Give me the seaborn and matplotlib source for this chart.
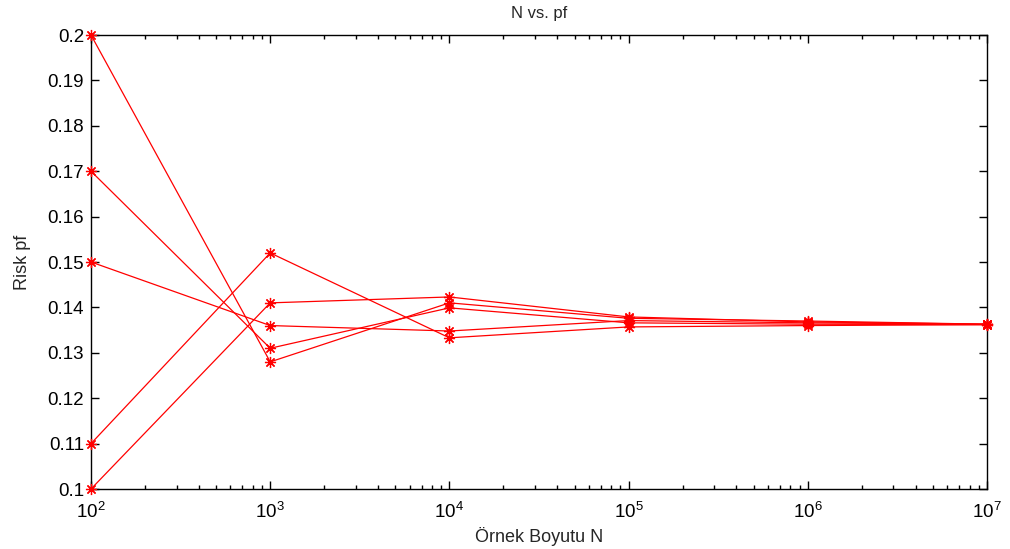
import numpy as np
import pandas as pd
import matplotlib
matplotlib.use("Agg")
import matplotlib.pyplot as plt
import seaborn as sns

# sample sizes and estimated risk for five runs
N = [1e2, 1e3, 1e4, 1e5, 1e6, 1e7]
run_a = [0.200, 0.128, 0.1410, 0.1376, 0.1370, 0.1363]
run_b = [0.170, 0.131, 0.1399, 0.1366, 0.1363, 0.1362]
run_c = [0.150, 0.136, 0.1348, 0.1371, 0.1366, 0.1363]
run_d = [0.110, 0.152, 0.1333, 0.1357, 0.1360, 0.1362]
run_e = [0.100, 0.141, 0.1423, 0.1379, 0.1368, 0.1363]

runs = {"a": run_a, "b": run_b, "c": run_c, "d": run_d, "e": run_e}
df = pd.DataFrame([
    {"run": k, "N": n, "pf": v}
    for k, vals in runs.items()
    for n, v in zip(N, vals)
])

sns.set_style("white")
plt.rcParams["font.family"] = ["Liberation Sans", "DejaVu Sans"]
plt.rcParams["mathtext.fontset"] = "custom"
plt.rcParams["mathtext.rm"] = "Liberation Sans"
plt.rcParams["mathtext.it"] = "Liberation Sans"

fig = plt.figure(figsize=(10.1, 5.49), dpi=100)
ax = fig.add_axes([91 / 1010, 1 - 489 / 549, (987 - 91) / 1010, (489 - 35) / 549])

sns.lineplot(data=df, x="N", y="pf", units="run", estimator=None,
             color="red", lw=0.9, marker=(8, 2, 0), markersize=8,
             markeredgecolor="red", markeredgewidth=0.9, clip_on=False,
             zorder=5, ax=ax)

ax.set_xscale("log")
ax.set_xlim(1e2, 1e7)
ax.set_ylim(0.1, 0.2)
ax.set_yticks(np.arange(0.1, 0.2001, 0.01))
ax.set_yticklabels(["0.1", "0.11", "0.12", "0.13", "0.14", "0.15",
                    "0.16", "0.17", "0.18", "0.19", "0.2"])

for s in ax.spines.values():
    s.set_color("black")
    s.set_linewidth(1)
ax.tick_params(which="both", direction="in", top=True, right=True,
               bottom=True, left=True, colors="black", labelsize=13.5)
ax.tick_params(which="major", length=6, width=1)
ax.tick_params(which="minor", length=3, width=1)
ax.tick_params(axis="x", pad=9)
ax.tick_params(axis="y", pad=5)

ax.set_title("N vs. pf", fontsize=12, pad=12)
ax.set_xlabel("Örnek Boyutu N", fontsize=13, labelpad=4)
ax.set_ylabel("Risk pf", fontsize=13, labelpad=12)

fig.savefig("out.png", dpi=100, facecolor="white")
